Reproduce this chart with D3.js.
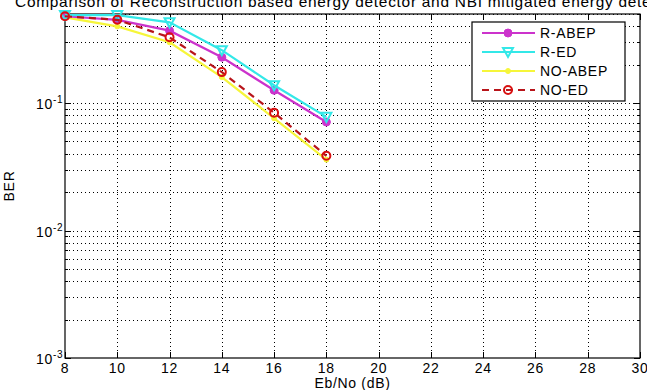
<!DOCTYPE html>
<html>
<head>
<meta charset="utf-8">
<script src="https://cdn.jsdelivr.net/npm/d3@7"></script>
<style>
  body { margin: 0; background: #fff; }
  text { font-family: "Liberation Sans", Arial, sans-serif; letter-spacing: 0.7px; }
</style>
</head>
<body>
<script>
// data
var snr = [8, 10, 12, 14, 16, 18];
var rAbep = [0.48, 0.45, 0.37, 0.229, 0.126, 0.071];
var rEd = [0.49, 0.49, 0.43, 0.26, 0.138, 0.078];
var noAbep = [0.47, 0.40, 0.30, 0.16, 0.076, 0.036];
var noEd = [0.48, 0.45, 0.328, 0.175, 0.084, 0.0386];
var xTicks = [8, 10, 12, 14, 16, 18, 20, 22, 24, 26, 28, 30];
var yDecades = [1e-3, 1e-2, 1e-1];
var seriesNames = ["R-ABEP", "R-ED", "NO-ABEP", "NO-ED"];

var w = 647, h = 390;
var pLeft = 65, pRight = 640, pTop = 14, pBottom = 358;

var svg = d3.select("body").append("svg")
  .attr("width", w)
  .attr("height", h);

var xScale = d3.scaleLinear().domain([8, 30]).range([pLeft, pRight]);
var yScale = d3.scaleLog().domain([1e-3, 0.5]).range([pBottom, pTop]);

// minor log ticks for the dotted grid
var yGrid = [];
yDecades.forEach(function(d) {
  for (var k = 1; k <= 9; k++) {
    var v = d * k;
    if (v <= 0.5) yGrid.push(v);
  }
});

var grid = svg.append("g");
grid.selectAll("line.gx")
  .data(xTicks.slice(1, -1))
  .enter().append("line")
  .attr("x1", function(d) { return Math.round(xScale(d)) + 0.5; })
  .attr("x2", function(d) { return Math.round(xScale(d)) + 0.5; })
  .attr("y1", pTop).attr("y2", pBottom)
  .attr("stroke", "#000")
  .attr("stroke-width", 1)
  .attr("stroke-dasharray", "1,3");

grid.selectAll("line.gy")
  .data(yGrid.slice(1))
  .enter().append("line")
  .attr("x1", pLeft).attr("x2", pRight)
  .attr("y1", function(d) { return Math.round(yScale(d)) + 0.5; })
  .attr("y2", function(d) { return Math.round(yScale(d)) + 0.5; })
  .attr("stroke", "#000")
  .attr("stroke-width", 1)
  .attr("stroke-dasharray", "1,3");

// inward ticks on all four sides
var ticks = svg.append("g").attr("stroke", "#000");
xTicks.forEach(function(t) {
  var x = Math.round(xScale(t)) + 0.5;
  ticks.append("line").attr("x1", x).attr("x2", x).attr("y1", pBottom).attr("y2", pBottom - 6);
  ticks.append("line").attr("x1", x).attr("x2", x).attr("y1", pTop).attr("y2", pTop + 6);
});
yGrid.forEach(function(t) {
  var y = Math.round(yScale(t)) + 0.5;
  var len = yDecades.indexOf(t) >= 0 ? 6 : 3;
  ticks.append("line").attr("x1", pLeft).attr("x2", pLeft + len).attr("y1", y).attr("y2", y);
  ticks.append("line").attr("x1", pRight).attr("x2", pRight - len).attr("y1", y).attr("y2", y);
});

// axis box
svg.append("rect")
  .attr("x", pLeft).attr("y", pTop)
  .attr("width", pRight - pLeft).attr("height", pBottom - pTop)
  .attr("fill", "none")
  .attr("stroke", "#000")
  .attr("stroke-width", 1.2);

// x tick labels
svg.append("g").selectAll("text")
  .data(xTicks)
  .enter().append("text")
  .attr("x", function(d) { return xScale(d); })
  .attr("y", pBottom + 15)
  .attr("text-anchor", "middle")
  .attr("font-size", 14)
  .text(function(d) { return d; });

// y tick labels, 10^n
var yLab = svg.append("g").selectAll("text")
  .data(yDecades)
  .enter().append("text")
  .attr("x", pLeft - 29)
  .attr("y", function(d) { return yScale(d) + 6; })
  .attr("font-size", 14);
yLab.append("tspan").text("10");
yLab.append("tspan")
  .attr("dy", -6)
  .attr("font-size", 10)
  .text(function(d) { return Math.round(Math.log10(d)); });

svg.append("text")
  .attr("x", (pLeft + pRight) / 2)
  .attr("y", h - 2)
  .attr("text-anchor", "middle")
  .attr("font-size", 14)
  .text("Eb/No (dB)");

svg.append("text")
  .attr("transform", "translate(14," + ((pTop + pBottom) / 2) + ") rotate(-90)")
  .attr("text-anchor", "middle")
  .attr("font-size", 14)
  .text("BER");

// title sits partly above the picture, as in the cropped reference
svg.append("text")
  .attr("x", 15)
  .attr("y", 7)
  .attr("font-size", 15)
  .attr("textLength", 665)
  .attr("lengthAdjust", "spacingAndGlyphs")
  .text("Comparison of Reconstruction based energy detector and NBI mitigated energy detector");

// series
var series = [
  { name: seriesNames[0], values: rAbep, color: "#cc33cc", dash: null, marker: "dot" },
  { name: seriesNames[1], values: rEd, color: "#33e8e8", dash: null, marker: "tri" },
  { name: seriesNames[2], values: noAbep, color: "#f6f63a", dash: null, marker: "small" },
  { name: seriesNames[3], values: noEd, color: "#b8141a", dash: "7,5", marker: "circle" }
];

var line = d3.line()
  .x(function(d, i) { return xScale(snr[i]); })
  .y(function(d) { return yScale(d); });

function drawMarker(g, kind, color, x, y) {
  if (kind === "dot") {
    g.append("circle").attr("cx", x).attr("cy", y).attr("r", 4)
      .attr("fill", color).attr("stroke", color);
  } else if (kind === "tri") {
    g.append("path")
      .attr("d", "M" + (x - 5) + "," + (y - 4) + "L" + (x + 5) + "," + (y - 4) + "L" + x + "," + (y + 5) + "Z")
      .attr("fill", "none").attr("stroke", color).attr("stroke-width", 2);
  } else if (kind === "small") {
    g.append("circle").attr("cx", x).attr("cy", y).attr("r", 2.5)
      .attr("fill", color).attr("stroke", color);
  } else {
    g.append("circle").attr("cx", x).attr("cy", y).attr("r", 4)
      .attr("fill", "none").attr("stroke", "#d81010").attr("stroke-width", 2);
  }
}

var order = [2, 0, 1, 3];
order.forEach(function(k) {
  var s = series[k];
  var g = svg.append("g");
  g.append("path")
    .attr("d", line(s.values))
    .attr("fill", "none")
    .attr("stroke", s.color)
    .attr("stroke-width", 2.2)
    .attr("stroke-dasharray", s.dash);
  s.values.forEach(function(v, i) {
    drawMarker(g, s.marker, s.color, xScale(snr[i]), yScale(v));
  });
});

// legend
var lg = svg.append("g");
lg.append("rect")
  .attr("x", 472).attr("y", 22)
  .attr("width", 153).attr("height", 79)
  .attr("fill", "#fff")
  .attr("stroke", "#000")
  .attr("stroke-width", 1.2);
series.forEach(function(s, i) {
  var y = 33 + i * 19;
  lg.append("line")
    .attr("x1", 482).attr("x2", 535)
    .attr("y1", y).attr("y2", y)
    .attr("stroke", s.color)
    .attr("stroke-width", 2.2)
    .attr("stroke-dasharray", s.dash);
  drawMarker(lg, s.marker, s.color, 508, y);
  lg.append("text")
    .attr("x", 540).attr("y", y + 5)
    .attr("font-size", 14)
    .text(s.name);
});
</script>
</body>
</html>
